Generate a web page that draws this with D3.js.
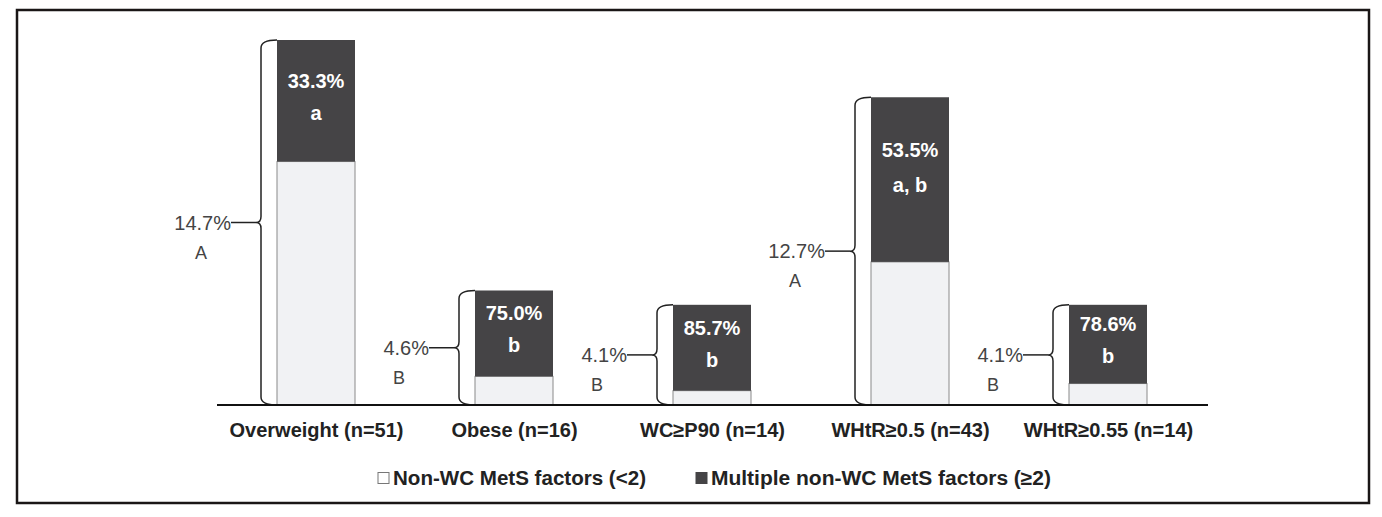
<!DOCTYPE html>
<html>
<head>
<meta charset="utf-8">
<script src="https://cdn.jsdelivr.net/npm/d3@7"></script>
<style>
  body { margin: 0; background: #fff; }
  svg { display: block; }
</style>
</head>
<body>
<svg id="vis"></svg>
<script>
(function() {
  // chart data
  var categories = ["Overweight (n=51)", "Obese (n=16)", "WC\u2265P90 (n=14)", "WHtR\u22650.5 (n=43)", "WHtR\u22650.55 (n=14)"];
  var nValues = [51, 16, 14, 43, 14];
  var multiPct = [33.3, 75.0, 85.7, 53.5, 78.6];
  var multiLetters = ["a", "b", "b", "a, b", "b"];
  var outerPct = ["14.7%", "4.6%", "4.1%", "12.7%", "4.1%"];
  var outerLetters = ["A", "B", "B", "A", "B"];
  var legendLabels = ["Non-WC MetS factors (<2)", "Multiple non-WC MetS factors (\u22652)"];

  var width = 1382, height = 517;
  var darkColor = "#454446", lightColor = "#f1f2f4";

  var chart = d3.select("#vis")
    .attr("width", width)
    .attr("height", height);

  // outer frame
  chart.append("rect")
    .attr("x", 17).attr("y", 10)
    .attr("width", 1352).attr("height", 493)
    .attr("fill", "none")
    .attr("stroke", "#1a1616")
    .attr("stroke-width", 2.5);

  var data = categories.map(function(c, i) {
    var multi = nValues[i] * multiPct[i] / 100;
    return { cat: c, n: nValues[i], light: nValues[i] - multi, pct: multiPct[i],
             letter: multiLetters[i], outer: outerPct[i], outerLetter: outerLetters[i] };
  });

  var x = d3.scalePoint()
    .domain(categories)
    .range([217, 1207])
    .padding(0.5);

  var y = d3.scaleLinear()
    .domain([0, 51])
    .range([405, 40]);

  var barW = 78;

  var groups = chart.selectAll("g.bar")
    .data(data)
    .enter()
    .append("g")
    .attr("class", "bar");

  // light part (bottom)
  groups.append("rect")
    .attr("x", function(d) { return x(d.cat) - barW / 2; })
    .attr("y", function(d) { return y(d.light); })
    .attr("width", barW)
    .attr("height", function(d) { return y(0) - y(d.light); })
    .attr("fill", lightColor)
    .attr("stroke", "#8a8a8a")
    .attr("stroke-width", 1);

  // dark part (top)
  groups.append("rect")
    .attr("x", function(d) { return x(d.cat) - barW / 2; })
    .attr("y", function(d) { return y(d.n); })
    .attr("width", barW)
    .attr("height", function(d) { return y(d.light) - y(d.n); })
    .attr("fill", darkColor);

  // labels inside dark part
  function darkMid(d) { return (y(d.n) + y(d.light)) / 2; }
  function darkH(d) { return y(d.light) - y(d.n); }

  groups.append("text")
    .attr("x", function(d) { return x(d.cat); })
    .attr("y", function(d) { return darkMid(d) - 20 - Math.max(0, darkH(d) - 125) / 4; })
    .attr("dy", "0.35em")
    .attr("text-anchor", "middle")
    .attr("fill", "#fff")
    .attr("font-family", "'Liberation Sans', Arial, sans-serif")
    .attr("font-weight", "bold")
    .attr("font-size", 20)
    .text(function(d) { return d.pct.toFixed(1) + "%"; });

  groups.append("text")
    .attr("x", function(d) { return x(d.cat); })
    .attr("y", function(d) { return darkMid(d) + 12 - Math.max(0, darkH(d) - 125) / 6; })
    .attr("dy", "0.35em")
    .attr("text-anchor", "middle")
    .attr("fill", "#fff")
    .attr("font-family", "'Liberation Sans', Arial, sans-serif")
    .attr("font-weight", "bold")
    .attr("font-size", 20)
    .text(function(d) { return d.letter; });

  // curly brace on the left of each bar
  function bracePath(d) {
    var L = x(d.cat) - barW / 2,
        bx = L - 16,
        top = y(d.n), bot = y(0),
        mid = (top + bot) / 2;
    return "M" + L + "," + top +
      " Q" + bx + "," + top + " " + bx + "," + (top + 8) +
      " L" + bx + "," + (mid - 6) +
      " Q" + bx + "," + mid + " " + (bx - 5) + "," + mid +
      " Q" + bx + "," + mid + " " + bx + "," + (mid + 6) +
      " L" + bx + "," + (bot - 8) +
      " Q" + bx + "," + bot + " " + L + "," + bot;
  }

  groups.append("path")
    .attr("d", bracePath)
    .attr("fill", "none")
    .attr("stroke", "#222")
    .attr("stroke-width", 1.5);

  function tipX(d) { return x(d.cat) - barW / 2 - 21; }
  function midY(d) { return (y(d.n) + y(0)) / 2; }

  groups.append("line")
    .attr("x1", function(d) { return tipX(d) - 25; })
    .attr("x2", function(d) { return tipX(d); })
    .attr("y1", midY)
    .attr("y2", midY)
    .attr("stroke", "#222")
    .attr("stroke-width", 1.5);

  groups.append("text")
    .attr("x", function(d) { return tipX(d) - 25; })
    .attr("y", midY)
    .attr("dy", "0.35em")
    .attr("text-anchor", "end")
    .attr("fill", "#444")
    .attr("font-family", "'Liberation Sans', Arial, sans-serif")
    .attr("font-size", 20)
    .text(function(d) { return d.outer; });

  groups.append("text")
    .attr("x", function(d) { return tipX(d) - 55; })
    .attr("y", function(d) { return midY(d) + 30; })
    .attr("dy", "0.35em")
    .attr("text-anchor", "middle")
    .attr("fill", "#444")
    .attr("font-family", "'Liberation Sans', Arial, sans-serif")
    .attr("font-size", 18)
    .text(function(d) { return d.outerLetter; });

  // x axis
  var xAxis = chart.append("g")
    .attr("transform", "translate(0," + y(0) + ")")
    .call(d3.axisBottom(x).tickSize(0).tickPadding(18));

  xAxis.select(".domain")
    .attr("d", "M217,0H1208")
    .attr("stroke", "#111")
    .attr("stroke-width", 2);

  xAxis.selectAll(".tick text")
    .attr("fill", "#222")
    .attr("font-family", "'Liberation Sans', Arial, sans-serif")
    .attr("font-weight", "bold")
    .attr("font-size", 20);

  // legend
  var legendX = [378, 696], legendLen = [253, 340];
  var legend = chart.selectAll("g.legend")
    .data(legendLabels)
    .enter()
    .append("g")
    .attr("class", "legend")
    .attr("transform", function(d, i) { return "translate(" + legendX[i] + ",478)"; });

  legend.append("rect")
    .attr("x", 0).attr("y", -5.5)
    .attr("width", 11).attr("height", 11)
    .attr("fill", function(d, i) { return i === 0 ? "#fff" : darkColor; })
    .attr("stroke", function(d, i) { return i === 0 ? "#777" : darkColor; })
    .attr("stroke-width", 1);

  legend.append("text")
    .attr("x", 15)
    .attr("y", 0)
    .attr("dy", "0.35em")
    .attr("fill", "#222")
    .attr("font-family", "'Liberation Sans', Arial, sans-serif")
    .attr("font-weight", "bold")
    .attr("font-size", 20)
    .attr("textLength", function(d, i) { return legendLen[i]; })
    .attr("lengthAdjust", "spacingAndGlyphs")
    .text(function(d) { return d; });

}());
</script>
</body>
</html>
